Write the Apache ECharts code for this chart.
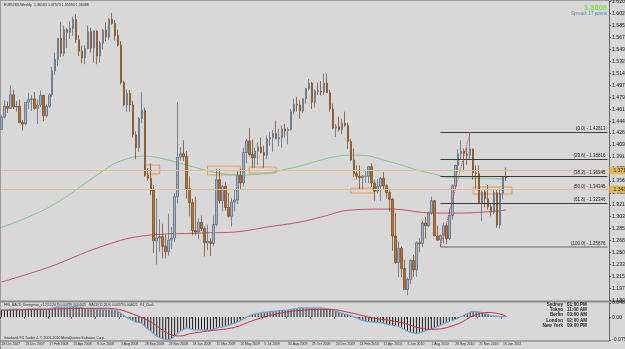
<!DOCTYPE html>
<html>
<head>
<meta charset="utf-8">
<script src="https://cdn.jsdelivr.net/npm/echarts@6/dist/echarts.min.js"></script>
<style>
html, body { margin: 0; padding: 0; background: #d8d8d8; }
#chart { width: 625px; height: 349px; }
</style>
</head>
<body>
<div id="chart"></div>
<script>
// EURUSD weekly bars: [open, high, low, close]
var bars2007 = [
  [1.4320, 1.4527, 1.4310, 1.4500], [1.4500, 1.4752, 1.4480, 1.4660], [1.4660, 1.4730, 1.4560, 1.4630],
  [1.4630, 1.4967, 1.4620, 1.4830], [1.4830, 1.4905, 1.4620, 1.4650], [1.4650, 1.4740, 1.4580, 1.4660],
  [1.4660, 1.4760, 1.4420, 1.4420], [1.4420, 1.4460, 1.4300, 1.4400], [1.4400, 1.4720, 1.4380, 1.4720],
  [1.4720, 1.4860, 1.4620, 1.4760]
]
var bars2008 = [
  [1.4760, 1.4820, 1.4590, 1.4770], [1.4770, 1.4870, 1.4610, 1.4630], [1.4630, 1.4760, 1.4400, 1.4680],
  [1.4680, 1.4890, 1.4650, 1.4820], [1.4820, 1.4830, 1.4440, 1.4520], [1.4520, 1.4690, 1.4500, 1.4660],
  [1.4660, 1.4850, 1.4640, 1.4830], [1.4830, 1.5240, 1.4800, 1.5180], [1.5180, 1.5450, 1.5120, 1.5350],
  [1.5350, 1.5670, 1.5250, 1.5660], [1.5660, 1.5905, 1.5390, 1.5440], [1.5440, 1.5850, 1.5400, 1.5790],
  [1.5790, 1.5810, 1.5520, 1.5750], [1.5750, 1.5910, 1.5650, 1.5810], [1.5810, 1.5980, 1.5700, 1.5940],
  [1.5940, 1.6019, 1.5590, 1.5640], [1.5640, 1.5710, 1.5400, 1.5470], [1.5470, 1.5550, 1.5290, 1.5370],
  [1.5370, 1.5560, 1.5280, 1.5510], [1.5510, 1.5850, 1.5500, 1.5760], [1.5760, 1.5810, 1.5450, 1.5520],
  [1.5520, 1.5780, 1.5300, 1.5770], [1.5770, 1.5780, 1.5280, 1.5400], [1.5400, 1.5620, 1.5300, 1.5590],
  [1.5590, 1.5800, 1.5500, 1.5780], [1.5780, 1.5900, 1.5620, 1.5680], [1.5680, 1.5960, 1.5640, 1.5940],
  [1.5940, 1.6038, 1.5860, 1.5880], [1.5880, 1.5930, 1.5630, 1.5700], [1.5700, 1.5790, 1.5540, 1.5560],
  [1.5560, 1.5620, 1.4980, 1.5010], [1.5010, 1.5040, 1.4660, 1.4680], [1.4680, 1.4910, 1.4580, 1.4850],
  [1.4850, 1.4900, 1.4580, 1.4680], [1.4680, 1.4740, 1.4200, 1.4240], [1.4240, 1.4290, 1.3880, 1.4050],
  [1.4050, 1.4500, 1.3990, 1.4480], [1.4480, 1.4867, 1.4410, 1.4600], [1.4600, 1.4640, 1.3620, 1.3640],
  [1.3640, 1.3750, 1.3560, 1.3600], [1.3600, 1.3820, 1.3350, 1.3420], [1.3420, 1.3500, 1.2500, 1.2680],
  [1.2680, 1.3300, 1.2330, 1.2720], [1.2720, 1.3000, 1.2520, 1.2740], [1.2740, 1.2930, 1.2420, 1.2600],
  [1.2600, 1.2770, 1.2420, 1.2520], [1.2520, 1.3080, 1.2460, 1.2690], [1.2690, 1.2880, 1.2560, 1.2720],
  [1.2720, 1.3380, 1.2660, 1.3330], [1.3330, 1.4720, 1.3230, 1.3910], [1.3910, 1.4060, 1.3860, 1.3960],
  [1.3960, 1.4160, 1.3850, 1.3920]
]
var bars2009 = [
  [1.3920, 1.4000, 1.3300, 1.3450], [1.3450, 1.3630, 1.3040, 1.3240], [1.3240, 1.3300, 1.2760, 1.2830],
  [1.2830, 1.3330, 1.2760, 1.2810], [1.2810, 1.3010, 1.2700, 1.2950], [1.2950, 1.3050, 1.2820, 1.2860],
  [1.2860, 1.2900, 1.2450, 1.2650], [1.2650, 1.2920, 1.2540, 1.2670], [1.2670, 1.2720, 1.2456, 1.2640],
  [1.2640, 1.3050, 1.2600, 1.2920], [1.2920, 1.3740, 1.2890, 1.3580], [1.3580, 1.3740, 1.3230, 1.3270],
  [1.3270, 1.3500, 1.3110, 1.3480], [1.3480, 1.3550, 1.3120, 1.3170], [1.3170, 1.3380, 1.3020, 1.3040],
  [1.3040, 1.3310, 1.2890, 1.3250], [1.3250, 1.3440, 1.3110, 1.3280], [1.3280, 1.3720, 1.3220, 1.3640],
  [1.3640, 1.3740, 1.3440, 1.3530], [1.3530, 1.4050, 1.3480, 1.3980], [1.3980, 1.4180, 1.3820, 1.4150],
  [1.4150, 1.4340, 1.3920, 1.3950], [1.3950, 1.4170, 1.3750, 1.3900], [1.3900, 1.4050, 1.3750, 1.4000],
  [1.4000, 1.4130, 1.3800, 1.4060], [1.4060, 1.4200, 1.3960, 1.3980], [1.3980, 1.4080, 1.3750, 1.3940],
  [1.3940, 1.4230, 1.3880, 1.4180], [1.4180, 1.4280, 1.4080, 1.4200], [1.4200, 1.4310, 1.3990, 1.4260],
  [1.4260, 1.4450, 1.4190, 1.4180], [1.4180, 1.4330, 1.4070, 1.4200], [1.4200, 1.4380, 1.4050, 1.4330],
  [1.4330, 1.4400, 1.4200, 1.4300], [1.4300, 1.4350, 1.4100, 1.4320], [1.4320, 1.4620, 1.4300, 1.4580],
  [1.4580, 1.4770, 1.4540, 1.4690], [1.4690, 1.4800, 1.4580, 1.4680], [1.4680, 1.4750, 1.4480, 1.4590],
  [1.4590, 1.4780, 1.4560, 1.4770], [1.4770, 1.4930, 1.4700, 1.4920], [1.4920, 1.5060, 1.4890, 1.5000],
  [1.5000, 1.5020, 1.4620, 1.4720], [1.4720, 1.4910, 1.4640, 1.4890], [1.4890, 1.5010, 1.4830, 1.4880],
  [1.4880, 1.5030, 1.4820, 1.4870], [1.4870, 1.5145, 1.4830, 1.5000], [1.5000, 1.5140, 1.4860, 1.4860],
  [1.4860, 1.4900, 1.4580, 1.4620], [1.4620, 1.4700, 1.4320, 1.4340], [1.4340, 1.4400, 1.4210, 1.4360],
  [1.4360, 1.4510, 1.4290, 1.4320]
]
var bars2010 = [
  [1.4320, 1.4480, 1.4250, 1.4410], [1.4410, 1.4580, 1.4360, 1.4380], [1.4380, 1.4420, 1.4030, 1.4140],
  [1.4140, 1.4180, 1.3860, 1.3870], [1.3870, 1.4040, 1.3620, 1.3670], [1.3670, 1.3790, 1.3580, 1.3630],
  [1.3630, 1.3790, 1.3440, 1.3610], [1.3610, 1.3650, 1.3440, 1.3630], [1.3630, 1.3730, 1.3530, 1.3630],
  [1.3630, 1.3780, 1.3530, 1.3770], [1.3770, 1.3820, 1.3470, 1.3530], [1.3530, 1.3580, 1.3270, 1.3410],
  [1.3410, 1.3590, 1.3380, 1.3480], [1.3480, 1.3620, 1.3270, 1.3600], [1.3600, 1.3690, 1.3440, 1.3490],
  [1.3490, 1.3510, 1.3300, 1.3390], [1.3390, 1.3430, 1.3110, 1.3290], [1.3290, 1.3310, 1.2530, 1.2750],
  [1.2750, 1.3090, 1.2340, 1.2360], [1.2360, 1.2670, 1.2140, 1.2570], [1.2570, 1.2600, 1.2140, 1.2270],
  [1.2270, 1.2400, 1.1960, 1.1960], [1.1960, 1.2140, 1.1876, 1.2110], [1.2110, 1.2400, 1.2040, 1.2390],
  [1.2390, 1.2470, 1.2150, 1.2250], [1.2250, 1.2670, 1.2150, 1.2650], [1.2650, 1.2720, 1.2510, 1.2640],
  [1.2640, 1.2970, 1.2580, 1.2940], [1.2940, 1.3030, 1.2710, 1.2900], [1.2900, 1.3110, 1.2880, 1.3090],
  [1.3090, 1.3330, 1.3060, 1.3270], [1.3270, 1.3280, 1.2750, 1.2750], [1.2750, 1.2900, 1.2680, 1.2690],
  [1.2690, 1.2770, 1.2588, 1.2760], [1.2760, 1.2950, 1.2640, 1.2900], [1.2900, 1.2930, 1.2630, 1.2710],
  [1.2710, 1.3160, 1.2690, 1.3050], [1.3050, 1.3510, 1.2990, 1.3490], [1.3490, 1.3800, 1.3440, 1.3790],
  [1.3790, 1.4030, 1.3690, 1.3960], [1.3960, 1.4160, 1.3870, 1.4000], [1.4000, 1.4040, 1.3700, 1.3960],
  [1.3960, 1.4050, 1.3800, 1.3940], [1.3940, 1.4282, 1.3870, 1.4030], [1.4030, 1.4040, 1.3580, 1.3680],
  [1.3680, 1.3790, 1.3440, 1.3670], [1.3670, 1.3790, 1.3240, 1.3240], [1.3240, 1.3420, 1.2970, 1.3400],
  [1.3400, 1.3430, 1.3170, 1.3300], [1.3300, 1.3500, 1.3140, 1.3180], [1.3180, 1.3220, 1.3040, 1.3100],
  [1.3100, 1.3420, 1.3070, 1.3390]
]
var bars2011 = [
  [1.3390, 1.3440, 1.2870, 1.2910], [1.2910, 1.3450, 1.2860, 1.3380], [1.3380, 1.3620, 1.3290, 1.3610],
  [1.3618, 1.3757, 1.3559, 1.3609]
]

// moving averages: [bar index, price]
var maGreen = [[0, 1.2877], [16, 1.3176], [33, 1.3677], [39, 1.3839], [48, 1.3928], [53, 1.3898], [62, 1.3795],
  [71, 1.3692], [80, 1.3648], [87, 1.3662], [94, 1.3721], [100, 1.3780], [107, 1.3869], [112, 1.3920],
  [117, 1.3942], [123, 1.3928], [128, 1.3869], [134, 1.3795], [139, 1.3721], [145, 1.3662], [150, 1.3611],
  [157, 1.3603], [164, 1.3596], [169, 1.3589]]
var maRed = [[0, 1.2072], [16, 1.2293], [33, 1.2587], [47, 1.2749], [67, 1.2794], [78, 1.2808], [89, 1.2882],
  [100, 1.2956], [107, 1.3029], [117, 1.3132], [130, 1.3147], [145, 1.3088], [154, 1.3088], [169, 1.3132]]

// MACD main (histogram + blue line), one value per bar
var macdMain = [
  0.024, 0.024, 0.025, 0.026, 0.026, 0.026, 0.025, 0.025, 0.026, 0.027,
  0.027, 0.027, 0.027, 0.027, 0.026, 0.026, 0.027, 0.029, 0.031, 0.033,
  0.033, 0.033, 0.033, 0.033, 0.034, 0.034, 0.032, 0.030, 0.028, 0.028,
  0.027, 0.027, 0.026, 0.025, 0.025, 0.024, 0.024, 0.024, 0.022, 0.019,
  0.012, 0.004, -0.001, -0.006, -0.011, -0.016, -0.018, -0.020, -0.030, -0.039,
  -0.046, -0.055, -0.062, -0.068, -0.072, -0.074, -0.074, -0.071, -0.062, -0.052,
  -0.046, -0.040, -0.036, -0.038, -0.041, -0.042, -0.042, -0.042, -0.043, -0.043,
  -0.042, -0.040, -0.036, -0.034, -0.033, -0.030, -0.027, -0.023, -0.020, -0.016,
  -0.011, -0.006, -0.001, 0.004, 0.008, 0.010, 0.012, 0.014, 0.016, 0.017,
  0.018, 0.019, 0.020, 0.021, 0.022, 0.022, 0.023, 0.025, 0.027, 0.029,
  0.030, 0.030, 0.030, 0.030, 0.030, 0.030, 0.030, 0.030, 0.029, 0.028,
  0.026, 0.023, 0.020, 0.016, 0.013, 0.010, 0.008, 0.005, 0.001, -0.003,
  -0.007, -0.011, -0.014, -0.015, -0.016, -0.017, -0.018, -0.018, -0.020, -0.023,
  -0.025, -0.027, -0.029, -0.030, -0.035, -0.041, -0.046, -0.050, -0.052, -0.053,
  -0.052, -0.049, -0.045, -0.042, -0.039, -0.035, -0.031, -0.027, -0.022, -0.018,
  -0.014, -0.011, -0.008, -0.003, 0.002, 0.007, 0.011, 0.016, 0.019, 0.018,
  0.017, 0.014, 0.011, 0.008, 0.005, 0.004, 0.002, 0.001, 0.001, 0.002
]
// MACD signal (red line): [bar index, value]
var macdSignal = [[0, 0.022], [16, 0.026], [33, 0.029], [38, 0.027], [44, 0.010], [50, -0.016], [56, -0.055],
  [60, -0.062], [63, -0.055], [69, -0.046], [78, -0.034], [84, -0.012], [92, 0.010], [100, 0.022],
  [110, 0.025], [117, 0.014], [123, 0.000], [134, -0.018], [140, -0.036], [145, -0.040], [153, -0.022],
  [158, 0.004], [163, 0.015], [167, 0.010], [169, 0.003]]

// fibonacci retracement Aug 2010 low -> Nov 2010 high
var fibLevels = ['0.0', '23.6', '38.2', '50.0', '61.8', '100.0']
var fibPrices = [1.42813, 1.38816, 1.36345, 1.34345, 1.32346, 1.25876]
var hLines = [1.3711, 1.3437]
// rectangles: [from bar, to bar, top price, bottom price]
var boxes = [[48.2, 52.9, 1.3795, 1.3663], [69.3, 79.7, 1.3780, 1.3648], [83.4, 91.8, 1.3766, 1.3677],
  [116.9, 125.3, 1.3456, 1.3383], [158.1, 171.2, 1.3471, 1.3368]]

var priceTicks = [1.18020, 1.19780, 1.21540, 1.23300, 1.25060, 1.26820, 1.28580, 1.30340, 1.32100,
  1.33860, 1.35620, 1.37380, 1.39140, 1.40900, 1.42660, 1.44420, 1.46180, 1.47940, 1.49700,
  1.51460, 1.53220, 1.54980, 1.56740, 1.58500, 1.60260, 1.62020]
var macdTicks = [-0.0752, 0, 0.0462]

var bars = bars2007.concat(bars2008, bars2009, bars2010, bars2011)
var lastClose = 1.3609

var months = ['Jan', 'Feb', 'Mar', 'Apr', 'May', 'Jun', 'Jul', 'Aug', 'Sep', 'Oct', 'Nov', 'Dec']
var weeks = []
for (var i = 0; i < bars.length; i++) {
  var d = new Date(Date.UTC(2007, 9, 28) + i * 7 * 86400000)
  weeks.push(d.getUTCDate() + ' ' + months[d.getUTCMonth()] + ' ' + d.getUTCFullYear())
}
// chart shift: empty space right of the last bar
for (var k = 0; k < 34; k++) weeks.push('')

var candleData = bars.map(function (b) { return [b[0], b[3], b[2], b[1]] })

var fibLines = fibPrices.map(function (p, n) {
  var last = n === fibPrices.length - 1
  return [{
    coord: [147, p],
    lineStyle: { color: last ? '#8e8e8e' : '#3a3a3a', width: last ? 1.6 : 1, type: 'solid' },
    label: {
      show: true, position: 'insideEndTop', distance: [2, 0.5], fontSize: 4.5, color: '#222',
      fontFamily: 'Liberation Sans', formatter: '(' + fibLevels[n] + ') - ' + p.toFixed(5)
    }
  }, { coord: [203, p] }]
})
var levelLines = hLines.map(function (p) {
  return [{
    coord: [0, p],
    lineStyle: { color: '#e8bf8a', width: 1, type: 'solid' },
    label: {
      show: true, position: 'end', distance: 2, fontSize: 5, color: '#222', backgroundColor: '#e8b44c',
      padding: [1, 4], fontFamily: 'Liberation Sans', formatter: p.toFixed(5)
    }
  }, { coord: [203, p] }]
})
var markLines = fibLines.concat(levelLines)
markLines.push([{ coord: [147, fibPrices[5]], lineStyle: { color: '#d0404a', width: 1, type: 'dotted' }, label: { show: false } },
  { coord: [157, fibPrices[0]] }])
markLines.push([{
  coord: [169, lastClose], lineStyle: { opacity: 0 },
  label: { show: true, position: 'end', distance: 2, fontSize: 5, color: '#fff', backgroundColor: '#111',
    padding: [1, 4], fontFamily: 'Liberation Sans', formatter: '1.36088' }
}, { coord: [203, lastClose] }])

var boxAreas = boxes.map(function (b) {
  return [{ coord: [b[0], b[2]] }, { coord: [b[1], b[3]] }]
})

function txt(x, y, s, font, fill, align) {
  return { type: 'text', x: x, y: y, silent: true, z: 50,
    style: { text: s, font: font, fill: fill || '#1e1e1e', textAlign: align || 'left', textVerticalAlign: 'middle' } }
}
var clock = [['Sydney', '01:00 PM'], ['Tokyo', '11:00 AM'], ['Berlin', '03:00 AM'], ['London', '02:00 AM'], ['New York', '09:00 PM']]
var graphics = [
  { type: 'rect', shape: { x: 0, y: 0, width: 625, height: 1 }, style: { fill: '#9c9c9c' }, silent: true },
  { type: 'rect', shape: { x: 0, y: 0, width: 1, height: 349 }, style: { fill: '#9c9c9c' }, silent: true },
  { type: 'rect', shape: { x: 0, y: 300.6, width: 625, height: 2 }, style: { fill: '#8a8a8a' }, silent: true },
  { type: 'rect', shape: { x: 0, y: 340.5, width: 610, height: 1 }, style: { fill: '#6a6a6a' }, silent: true },
  txt(4, 4.6, 'EURUSD,Weekly  1.36181 1.37573 1.35593 1.36088', '3.6px "Liberation Sans"'),
  txt(607, 7.5, '1.3609', 'bold 7.5px "Liberation Sans"', '#78e03a', 'right'),
  txt(607, 13.8, 'Spread: 17 points', '4.6px "Liberation Sans"', '#5b88b4', 'right'),
  txt(4, 305.6, 'FFS_MACD_Divergence_v1.2(12,26,9) 0.00379 0.004625   MACD(12,26,9) 0.00379 0.004625   P4_Clock', '3.2px "Liberation Sans"'),
  txt(4, 338.3, 'Interbank FX Trader 4, \u00a9 2001-2010 MetaQuotes Software Corp.', '3.5px "Liberation Sans"')
]
clock.forEach(function (c, n) {
  graphics.push(txt(563, 304.6 + n * 5.3, c[0], 'bold 4.6px "Liberation Sans"', '#1e1e1e', 'right'))
  graphics.push(txt(567, 304.6 + n * 5.3, c[1], 'bold 4.6px "Liberation Sans"', '#1e1e1e', 'left'))
})

var Chart = echarts.init(document.getElementById('chart'))
var option = {
  backgroundColor: '#d8d8d8',
  animation: false,
  grid: [
    // labels are allowed to run off the right edge, like the terminal does
    { left: 0, top: 1.4, width: 609, height: 299.1, outerBoundsMode: 'none', containLabel: false },
    { left: 0, top: 303, width: 609, height: 37, outerBoundsMode: 'none', containLabel: false }
  ],
  xAxis: [
    { type: 'category', gridIndex: 0, data: weeks, boundaryGap: true, show: false },
    {
      type: 'category', gridIndex: 1, data: weeks, boundaryGap: true,
      axisLine: { show: false },
      axisTick: { show: true, length: 1.5, lineStyle: { color: '#444' }, interval: function (n) { return n % 8 === 0 && n < 170 } },
      axisLabel: {
        show: true, fontSize: 3.4, fontFamily: 'Liberation Sans', color: '#1e1e1e', align: 'left', margin: 3,
        interval: function (n) { return n % 8 === 0 && n < 170 }
      }
    }
  ],
  yAxis: [
    {
      type: 'value', gridIndex: 0, position: 'right', min: 1.18, max: 1.6205, splitLine: { show: false },
      axisLine: { show: true, lineStyle: { color: '#6a6a6a' } },
      axisTick: { show: true, length: 2, customValues: priceTicks, lineStyle: { color: '#555' } },
      axisLabel: { customValues: priceTicks, fontSize: 5.2, fontFamily: 'Liberation Sans', color: '#1e1e1e', margin: 3,
        formatter: function (v) { return v.toFixed(5) } }
    },
    {
      type: 'value', gridIndex: 1, position: 'right', min: -0.0752, max: 0.0462, splitLine: { show: false },
      axisLine: { show: true, lineStyle: { color: '#6a6a6a' } },
      axisTick: { show: true, length: 2, customValues: macdTicks, lineStyle: { color: '#555' } },
      axisLabel: { customValues: macdTicks, fontSize: 5.2, fontFamily: 'Liberation Sans', color: '#1e1e1e', margin: 3,
        formatter: function (v) { return v === 0 ? '0.00' : v.toFixed(5) } }
    }
  ],
  graphic: graphics,
  series: [
    {
      name: 'MA green', type: 'line', xAxisIndex: 0, yAxisIndex: 0, data: maGreen, smooth: 0.4,
      symbol: 'none', lineStyle: { color: '#86c495', width: 1 }, z: 2, silent: true
    },
    {
      name: 'MA red', type: 'line', xAxisIndex: 0, yAxisIndex: 0, data: maRed, smooth: 0.4,
      symbol: 'none', lineStyle: { color: '#c8506e', width: 1 }, z: 2, silent: true
    },
    {
      name: 'EURUSD', type: 'candlestick', xAxisIndex: 0, yAxisIndex: 0, data: candleData, barWidth: 2, z: 3,
      itemStyle: { color: '#a3b3c4', color0: '#b9733a', borderColor: '#5e6c7c', borderColor0: '#7e4c24', borderWidth: 0.8 },
      markLine: { symbol: ['none', 'none'], silent: true, animation: false, data: markLines },
      markArea: { silent: true, itemStyle: { color: 'rgba(0,0,0,0)', borderColor: '#e29a5a', borderWidth: 1 }, data: boxAreas }
    },
    {
      name: 'MACD hist', type: 'bar', xAxisIndex: 1, yAxisIndex: 1, data: macdMain, barWidth: 1,
      itemStyle: { color: '#1e1e1e' }, silent: true
    },
    {
      name: 'MACD', type: 'line', xAxisIndex: 1, yAxisIndex: 1, data: macdMain, smooth: 0.3,
      symbol: 'none', lineStyle: { color: '#6aa6dc', width: 1.2 }, silent: true
    },
    {
      name: 'Signal', type: 'line', xAxisIndex: 1, yAxisIndex: 1, data: macdSignal, smooth: 0.4,
      symbol: 'none', lineStyle: { color: '#d03040', width: 1 }, silent: true
    }
  ]
}
Chart.setOption(option)
</script>
</body>
</html>
